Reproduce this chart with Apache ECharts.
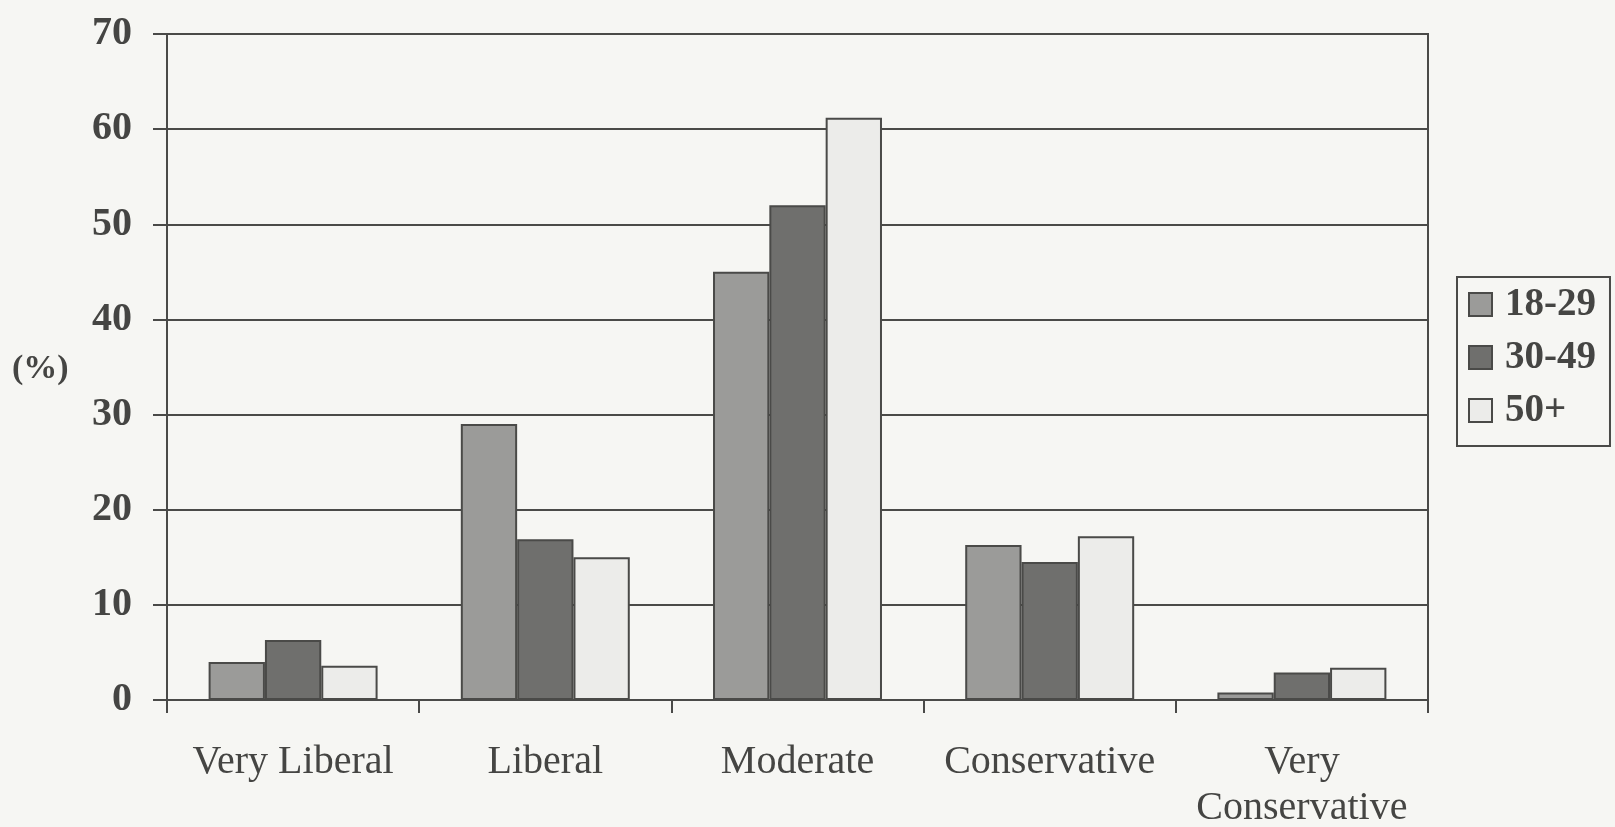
<!DOCTYPE html>
<html>
<head>
<meta charset="utf-8">
<title>Political ideology by age group</title>
<script src="https://cdn.jsdelivr.net/npm/echarts@6/dist/echarts.min.js"></script>
<style>
  html, body { margin: 0; padding: 0; background: #f6f6f3; }
  #chart { width: 1615px; height: 827px; }
</style>
</head>
<body>
<div id="chart"></div>
<script>
// Ideology categories along the x axis
const categories = ['Very Liberal', 'Liberal', 'Moderate', 'Conservative', 'Very\nConservative'];

// Share of each age group (%) per ideology category
const age18to29 = [4, 29, 45, 16.3, 0.8];
const age30to49 = [6.3, 16.9, 52, 14.5, 2.9];
const age50plus = [3.6, 15, 61.2, 17.2, 3.4];

const seriesNames = ['18-29', '30-49', '50+'];

// Y axis range and step
const yMin = 0;
const yMax = 70;
const yStep = 10;

const serif = "'Liberation Serif', 'Times New Roman', serif";
const ink = '#454543';
const edge = '#4a4a48';

const chart = echarts.init(document.getElementById('chart'));

const barStyle = (fill) => ({
  color: fill,
  borderColor: edge,
  borderWidth: 2
});

chart.setOption({
  backgroundColor: '#f6f6f3',
  animation: false,
  grid: {
    left: 167,
    right: 187,
    top: 34,
    bottom: 127,
    outerBoundsMode: 'none',
    show: true,
    borderColor: edge,
    borderWidth: 2,
    backgroundColor: 'transparent'
  },
  legend: {
    orient: 'vertical',
    left: 1457,
    top: 277,
    data: seriesNames,
    icon: 'rect',
    itemWidth: 23,
    itemHeight: 23,
    itemGap: 14,
    padding: [8, 14, 16, 11],
    borderColor: edge,
    borderWidth: 2,
    itemStyle: { borderColor: edge, borderWidth: 2 },
    textStyle: {
      fontFamily: serif,
      fontWeight: 'bold',
      fontSize: 39,
      lineHeight: 39,
      color: ink,
      padding: [0, 0, 0, 8]
    }
  },
  graphic: [{
    type: 'text',
    left: 12,
    top: 352,
    style: {
      text: '(%)',
      font: "bold 34px 'Liberation Serif', 'Times New Roman', serif",
      fill: ink
    }
  }],
  xAxis: {
    type: 'category',
    data: categories,
    boundaryGap: true,
    axisLine: { show: true, lineStyle: { color: edge, width: 2 } },
    axisTick: { show: true, alignWithLabel: false, length: 13, lineStyle: { color: edge, width: 2 } },
    axisLabel: {
      interval: 0,
      margin: 39,
      fontFamily: serif,
      fontSize: 40,
      lineHeight: 46,
      color: ink
    }
  },
  yAxis: {
    type: 'value',
    min: yMin,
    max: yMax,
    interval: yStep,
    axisLine: { show: true, lineStyle: { color: edge, width: 2 } },
    axisTick: { show: true, length: 14, lineStyle: { color: edge, width: 2 } },
    splitLine: { show: true, lineStyle: { color: edge, width: 2 } },
    axisLabel: {
      margin: 35,
      fontFamily: serif,
      fontWeight: 'bold',
      fontSize: 40,
      color: ink
    }
  },
  series: [
    {
      name: seriesNames[0],
      type: 'bar',
      data: age18to29,
      barGap: '0%',
      barCategoryGap: '33%',
      itemStyle: barStyle('#9b9b99')
    },
    {
      name: seriesNames[1],
      type: 'bar',
      data: age30to49,
      barGap: '0%',
      barCategoryGap: '33%',
      itemStyle: barStyle('#6f6f6d')
    },
    {
      name: seriesNames[2],
      type: 'bar',
      data: age50plus,
      barGap: '0%',
      barCategoryGap: '33%',
      itemStyle: barStyle('#ececea')
    }
  ]
});
</script>
</body>
</html>
